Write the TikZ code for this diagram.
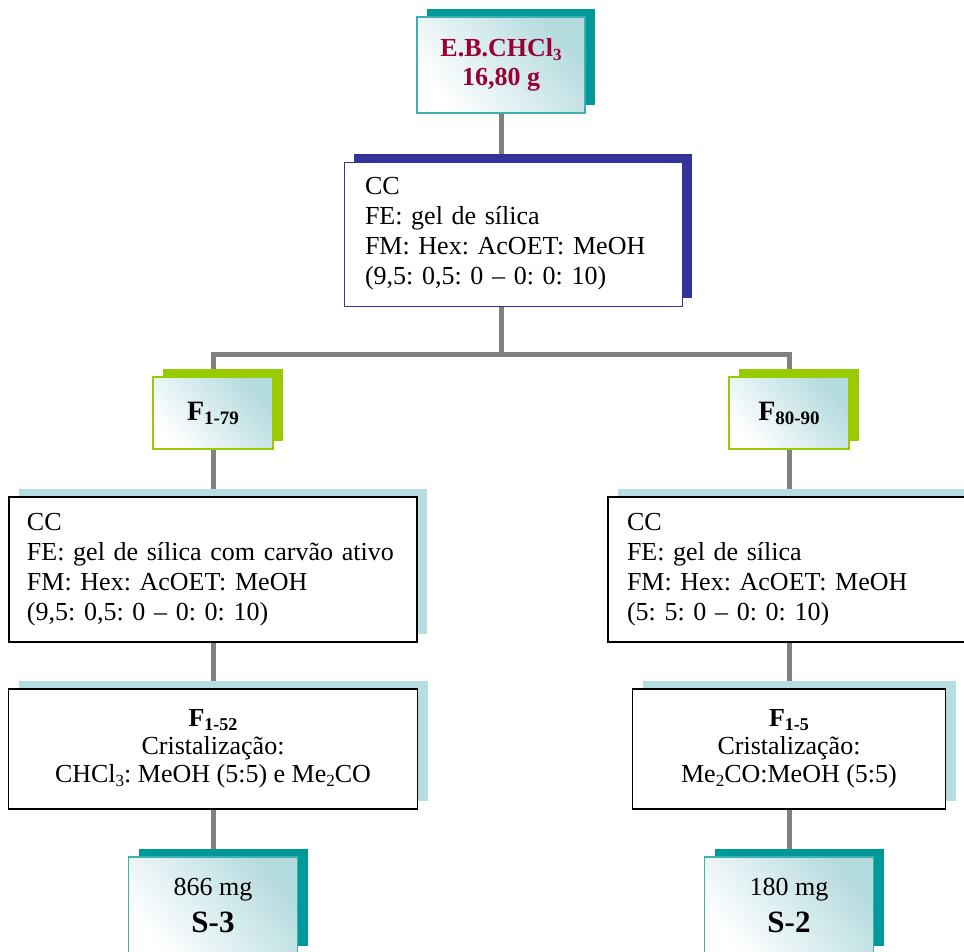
\documentclass[tikz,border=0pt]{standalone}
\usepackage{fontspec}
\setmainfont{Liberation Serif}
\frenchspacing
\usetikzlibrary{shadows,backgrounds}
\definecolor{tealdark}{HTML}{009999}
\definecolor{tealedge}{HTML}{3FB0B0}
\definecolor{navy}{HTML}{333399}
\definecolor{lime}{HTML}{99CC00}
\definecolor{paleblue}{HTML}{B7DDE0}
\definecolor{gradteal}{HTML}{B3DADE}
\definecolor{wine}{HTML}{990033}
\definecolor{linkgray}{HTML}{808080}
\newcommand\lo[2][17]{\raisebox{-4pt}{\fontsize{#1}{#1}\selectfont #2}}
\tikzset{
  base/.style={rectangle, inner sep=0pt, font=\fontsize{26}{30}\selectfont},
  gradfill/.style={top color=gradteal, bottom color=white, shading angle=-50},
  backshadow/.style={general shadow={fill=#1, shadow xshift=10pt, shadow yshift=8pt}},
  tealbox/.style={base, backshadow=tealdark, draw=tealedge, line width=1.2pt, gradfill, align=center},
  greenbox/.style={base, backshadow=lime, draw=lime, line width=2pt, gradfill, align=center},
  navybox/.style={base, backshadow=navy, draw=navy, line width=1pt, fill=white, align=left},
  plainbox/.style={base, backshadow=paleblue, draw=black, line width=1.5pt, fill=white},
  link/.style={draw=linkgray, line width=5pt, line join=miter}
}
\begin{document}
\begin{tikzpicture}[x=1pt,y=-1pt]
\useasboundingbox (0,0) rectangle (964,951);
\clip (0,0) rectangle (964,951);

% top
\node[tealbox, minimum width=168pt, minimum height=96pt, text=wine,
      font=\bfseries\fontsize{26}{29}\selectfont] (top) at (501,65)
      {E.B.CHCl\lo{3}\\16,80 g};

% first column chromatography
\node[navybox, text width=296pt, inner xsep=21pt, minimum height=144pt] (cc) at (513,234)
  {CC\\FE: gel de sílica\\FM: Hex: AcOET: MeOH\\(9,5: 0,5: 0 -- 0: 0: 10)};

\coordinate (hub) at (501,354);

% fractions
\node[greenbox, minimum width=120pt, minimum height=72pt,
      font=\bfseries\fontsize{28}{28}\selectfont] (f1) at (213,413) {F\lo[19]{1-79}};
\node[greenbox, minimum width=120pt, minimum height=72pt,
      font=\bfseries\fontsize{28}{28}\selectfont] (f2) at (789,413) {F\lo[19]{80-90}};

% second chromatographies
\node[plainbox, align=left, text width=372pt, inner xsep=18pt, minimum height=145pt] (ccl) at (213,569.5)
  {CC\\FE: gel de sílica com carvão ativo\\FM: Hex: AcOET: MeOH\\(9,5: 0,5: 0 -- 0: 0: 10)};
\node[plainbox, align=left, text width=370pt, inner xsep=19pt, minimum height=145pt] (ccr) at (812,569.5)
  {CC\\FE: gel de sílica\\FM: Hex: AcOET: MeOH\\(5: 5: 0 -- 0: 0: 10)};

% crystallisations
\node[plainbox, align=center, minimum width=409pt, minimum height=120pt] (crl) at (213,749)
  {{\bfseries F\lo[18]{1-52}}\\[-2pt]Cristalização:\\[-2pt]CHCl\lo{3}: MeOH (5:5) e Me\lo{2}CO};
\node[plainbox, align=center, minimum width=313pt, minimum height=120pt] (crr) at (789,749)
  {{\bfseries F\lo[18]{1-5}}\\[-2pt]Cristalização:\\[-2pt]Me\lo{2}CO:MeOH (5:5)};

% products
\node[tealbox, minimum width=169pt, minimum height=97pt, font=\fontsize{26}{37}\selectfont] (s3) at (213,905.5)
  {866 mg\\{\bfseries\fontsize{31}{37}\selectfont S-3}};
\node[tealbox, minimum width=169pt, minimum height=97pt, font=\fontsize{26}{37}\selectfont] (s2) at (789,905.5)
  {180 mg\\{\bfseries\fontsize{31}{37}\selectfont S-2}};

\begin{pgfonlayer}{background}
  \draw[link] (top.south) -- (top.south |- cc.north);
  \draw[link] (top.south |- cc.south) -- (hub);
  \draw[link] (f1.north) -- (f1.north |- hub) -- (f2.north |- hub) -- (f2.north);
  \draw[link] (f1.south) -- (f1.south |- ccl.north);
  \draw[link] (ccl.south) -- (crl.north);
  \draw[link] (crl.south) -- (s3.north);
  \draw[link] (f2.south) -- (f2.south |- ccr.north);
  \draw[link] (crr.north |- ccr.south) -- (crr.north);
  \draw[link] (crr.south) -- (s2.north);
\end{pgfonlayer}
\end{tikzpicture}
\end{document}
